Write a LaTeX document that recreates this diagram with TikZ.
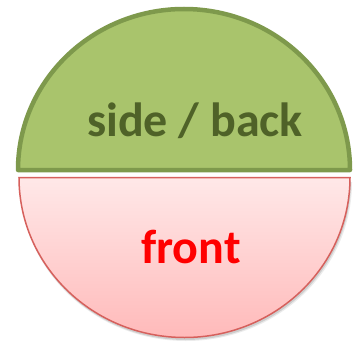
\documentclass[tikz,border=0pt]{standalone}
\usepackage{fontspec}
\setmainfont{Carlito}
\definecolor{gfill}{RGB}{169,196,108}
\definecolor{gline}{RGB}{126,153,76}
\definecolor{gtext}{RGB}{79,98,40}
\definecolor{ptop}{RGB}{255,232,232}
\definecolor{pbot}{RGB}{255,186,186}
\definecolor{pline}{RGB}{214,96,92}
\tikzset{
  greenhalf/.style={fill=gfill,draw=gline,line width=4.5pt,line join=round},
  pinkhalf/.style={top color=ptop,bottom color=pbot,draw=pline,line width=1.5pt},
  lbl/.style={font=\bfseries\fontsize{48}{54}\selectfont,inner sep=0pt,anchor=base}
}
\begin{document}
\begin{tikzpicture}[x=1pt,y=1pt]
\useasboundingbox (0,0) rectangle (358,343);
% soft shadow of the lower half
\fill[black,opacity=0.08] (20,161) arc[start angle=180,end angle=360,x radius=166,y radius=159] -- cycle;
\fill[black,opacity=0.12] (20,162.5) arc[start angle=180,end angle=360,x radius=165.5,y radius=159.5] -- cycle;
\path[pinkhalf] (19,165.5) arc[start angle=180,end angle=360,x radius=165.5,y radius=160] -- cycle;
\path[greenhalf] (18,173) arc[start angle=180,end angle=0,x radius=166,y radius=161] -- cycle;
\node[lbl,text=gtext] (sb) at (195,206) {side / back};
\node[lbl,text=red] (fr) at (191,80) {front};
\end{tikzpicture}
\end{document}
